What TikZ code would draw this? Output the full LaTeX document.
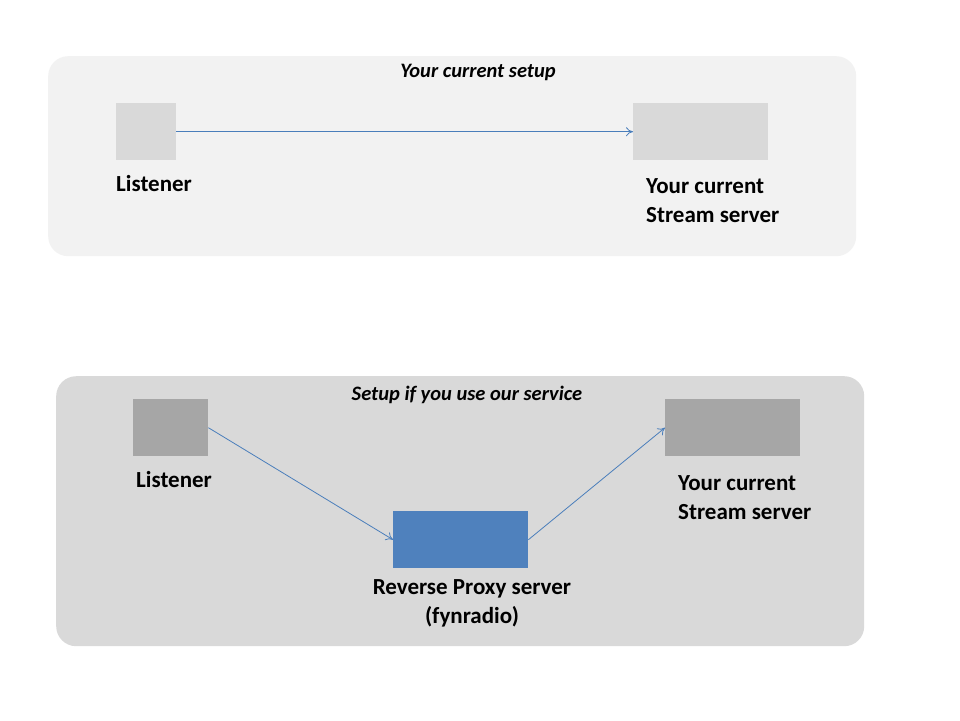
\documentclass[tikz,border=0pt]{standalone}
\usepackage{fontspec}
\setmainfont{Carlito}
\usetikzlibrary{arrows.meta}
\definecolor{panelA}{HTML}{F2F2F2}
\definecolor{panelB}{HTML}{D9D9D9}
\definecolor{boxA}{HTML}{D9D9D9}
\definecolor{boxB}{HTML}{A6A6A6}
\definecolor{proxyblue}{HTML}{4F81BD}
\definecolor{arrowblue}{HTML}{4A7EBB}
\tikzset{
  panel/.style={rounded corners=20pt, draw=none},
  block/.style={draw=none, inner sep=0pt, anchor=north west},
  lbl/.style={font=\fontsize{23}{29.5}\selectfont\bfseries, align=left, inner sep=0pt},
  ttl/.style={font=\fontsize{20.5}{24}\selectfont\bfseries\itshape, inner sep=0pt},
  conn/.style={draw=arrowblue, line width=0.8pt, -{To[length=7pt,width=9pt]}}
}
\begin{document}
\begin{tikzpicture}[x=1pt,y=-1pt]
\useasboundingbox[fill=white] (0,0) rectangle (960,720);
% top panel
\node[panel, fill=panelA, minimum width=808pt, minimum height=200pt, anchor=north west] (p1) at (48,56) {};
\node[ttl] (t1) at (478,72) {Your current setup};
\node[block, fill=boxA, minimum width=60pt, minimum height=57pt] (l1) at (116,103) {};
\node[block, fill=boxA, minimum width=135pt, minimum height=57pt] (s1) at (633,103) {};
\draw[conn] (l1.east) -- (s1.west);
\node[lbl, anchor=west] (ll1) at (116,184) {Listener};
\node[lbl, anchor=north west] (sl1) at (646,178) {Your current\\Stream server};
% bottom panel
\node[panel, fill=panelB, minimum width=808pt, minimum height=270pt, anchor=north west] (p2) at (56,376) {};
\node[ttl] (t2) at (467,395) {Setup if you use our service};
\node[block, fill=boxB, minimum width=75pt, minimum height=57pt] (l2) at (133,399) {};
\node[block, fill=boxB, minimum width=135pt, minimum height=57pt] (s2) at (665,399) {};
\node[block, fill=proxyblue, minimum width=135pt, minimum height=57pt] (px) at (393,511) {};
\draw[conn] (l2.east) -- (px.west);
\draw[conn] (px.east) -- (s2.west);
\node[lbl, anchor=west] (ll2) at (136,480) {Listener};
\node[lbl, anchor=north west] (sl2) at (678,475) {Your current\\Stream server};
\node[lbl, align=center, anchor=north] (pl) at (472,579) {Reverse Proxy server\\(fynradio)};
\end{tikzpicture}
\end{document}
